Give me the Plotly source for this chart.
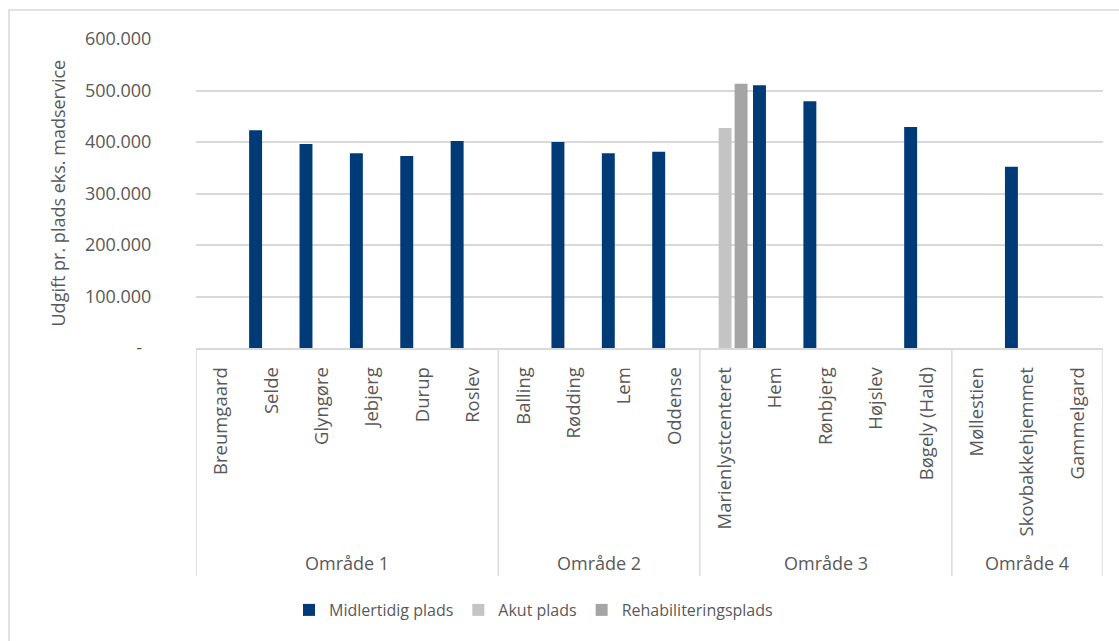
import plotly.graph_objects as go

# Plejecentre grouped by område
omraader = ["Område 1", "Område 2", "Område 3", "Område 4"]
centre_1 = ["Breumgaard", "Selde", "Glyngøre", "Jebjerg", "Durup", "Roslev"]
centre_2 = ["Balling", "Rødding", "Lem", "Oddense"]
centre_3 = ["Marienlystcenteret", "Hem", "Rønbjerg", "Højslev", "Bøgely (Hald)"]
centre_4 = ["Møllestien", "Skovbakkehjemmet", "Gammelgard"]
grupper = [centre_1, centre_2, centre_3, centre_4]
centre = centre_1 + centre_2 + centre_3 + centre_4

# Udgift pr. plads (kr.) per pladstype
midlertidig = [None, 423000, 396000, 378000, 373000, 402000,
               None, 400000, 378000, 381000,
               None, 510000, 479000, None, 429000,
               None, 352000, None]
akut = [None] * 10 + [427000] + [None] * 7
rehabilitering = [None] * 10 + [513000] + [None] * 7

y_ticks = [0, 100000, 200000, 300000, 400000, 500000, 600000]
y_ticktext = ["-\u00a0\u00a0", "100.000", "200.000", "300.000",
              "400.000", "500.000", "600.000"]

FONT = "Open Sans"
GREY_TXT = "#595959"
GRID = "#d9d9d9"

W, H = 1119, 641
M_L, M_R, M_T, M_B = 196, 16, 39, 293
plot_h = H - M_T - M_B
plot_w = W - M_L - M_R


def py(px):
    """pixel row -> paper y coordinate"""
    return (H - M_B - px) / plot_h


def px_x(px):
    """pixel column -> paper x coordinate"""
    return (px - M_L) / plot_w


fig = go.Figure()
for name, vals, color in [
    ("Midlertidig plads", midlertidig, "#003b78"),
    ("Akut plads", akut, "#c4c4c4"),
    ("Rehabiliteringsplads", rehabilitering, "#a5a5a5"),
]:
    fig.add_trace(go.Bar(x=centre, y=vals, name=name, marker_color=color,
                         marker_line_width=0))

# group dividers and group labels under the category axis
shapes = []
annotations = []
start = 0
bounds = [-0.5]
for label, grp in zip(omraader, grupper):
    end = start + len(grp)
    bounds.append(end - 0.5)
    annotations.append(dict(
        x=(start + end - 1) / 2, xref="x", y=py(563), yref="paper",
        text=label, showarrow=False, xanchor="center", yanchor="middle",
        font=dict(family=FONT, size=18, color=GREY_TXT)))
    start = end
for b in bounds:
    shapes.append(dict(type="line", xref="x", yref="paper", x0=b, x1=b,
                       y0=0, y1=py(576), line=dict(color=GRID, width=1.5)))

# outer chart frame
shapes.append(dict(type="rect", xref="paper", yref="paper",
                   x0=px_x(9), x1=px_x(1130), y0=py(660), y1=py(10),
                   line=dict(color=GRID, width=1.5),
                   fillcolor="rgba(0,0,0,0)", layer="below"))

# y-axis title
annotations.append(dict(
    x=px_x(57), xref="paper", y=0.5, yref="paper",
    text="Udgift pr. plads eks. madservice",
    showarrow=False, textangle=-90, xanchor="center", yanchor="middle",
    font=dict(family=FONT, size=18, color=GREY_TXT)))

fig.update_layout(
    width=W, height=H,
    margin=dict(l=M_L, r=M_R, t=M_T, b=M_B, autoexpand=False),
    paper_bgcolor="white", plot_bgcolor="white",
    barmode="group", bargap=0.048, bargroupgap=0.19,
    font=dict(family=FONT, size=18, color=GREY_TXT),
    shapes=shapes, annotations=annotations,
    legend=dict(orientation="h", x=px_x(289), xanchor="left", y=py(610), yanchor="middle",
                font=dict(family=FONT, size=16, color=GREY_TXT),
                itemwidth=30, traceorder="normal"),
    xaxis=dict(type="category", tickangle=-90, ticks="outside", ticklen=10,
               tickcolor="rgba(0,0,0,0)", showgrid=False, showline=True,
               linecolor=GRID, linewidth=1.5, zeroline=False,
               tickfont=dict(family=FONT, size=18.5, color=GREY_TXT),
               range=[-0.5, len(centre) - 0.5], fixedrange=True),
    yaxis=dict(range=[0, 600000], tickvals=y_ticks, ticktext=y_ticktext,
               ticks="outside", ticklen=40, tickcolor="rgba(0,0,0,0)",
               showgrid=True, gridcolor=GRID, gridwidth=1.5, zeroline=False,
               showline=False, tickfont=dict(family=FONT, size=18, color=GREY_TXT),
               fixedrange=True),
)

fig.write_html("out.html")
